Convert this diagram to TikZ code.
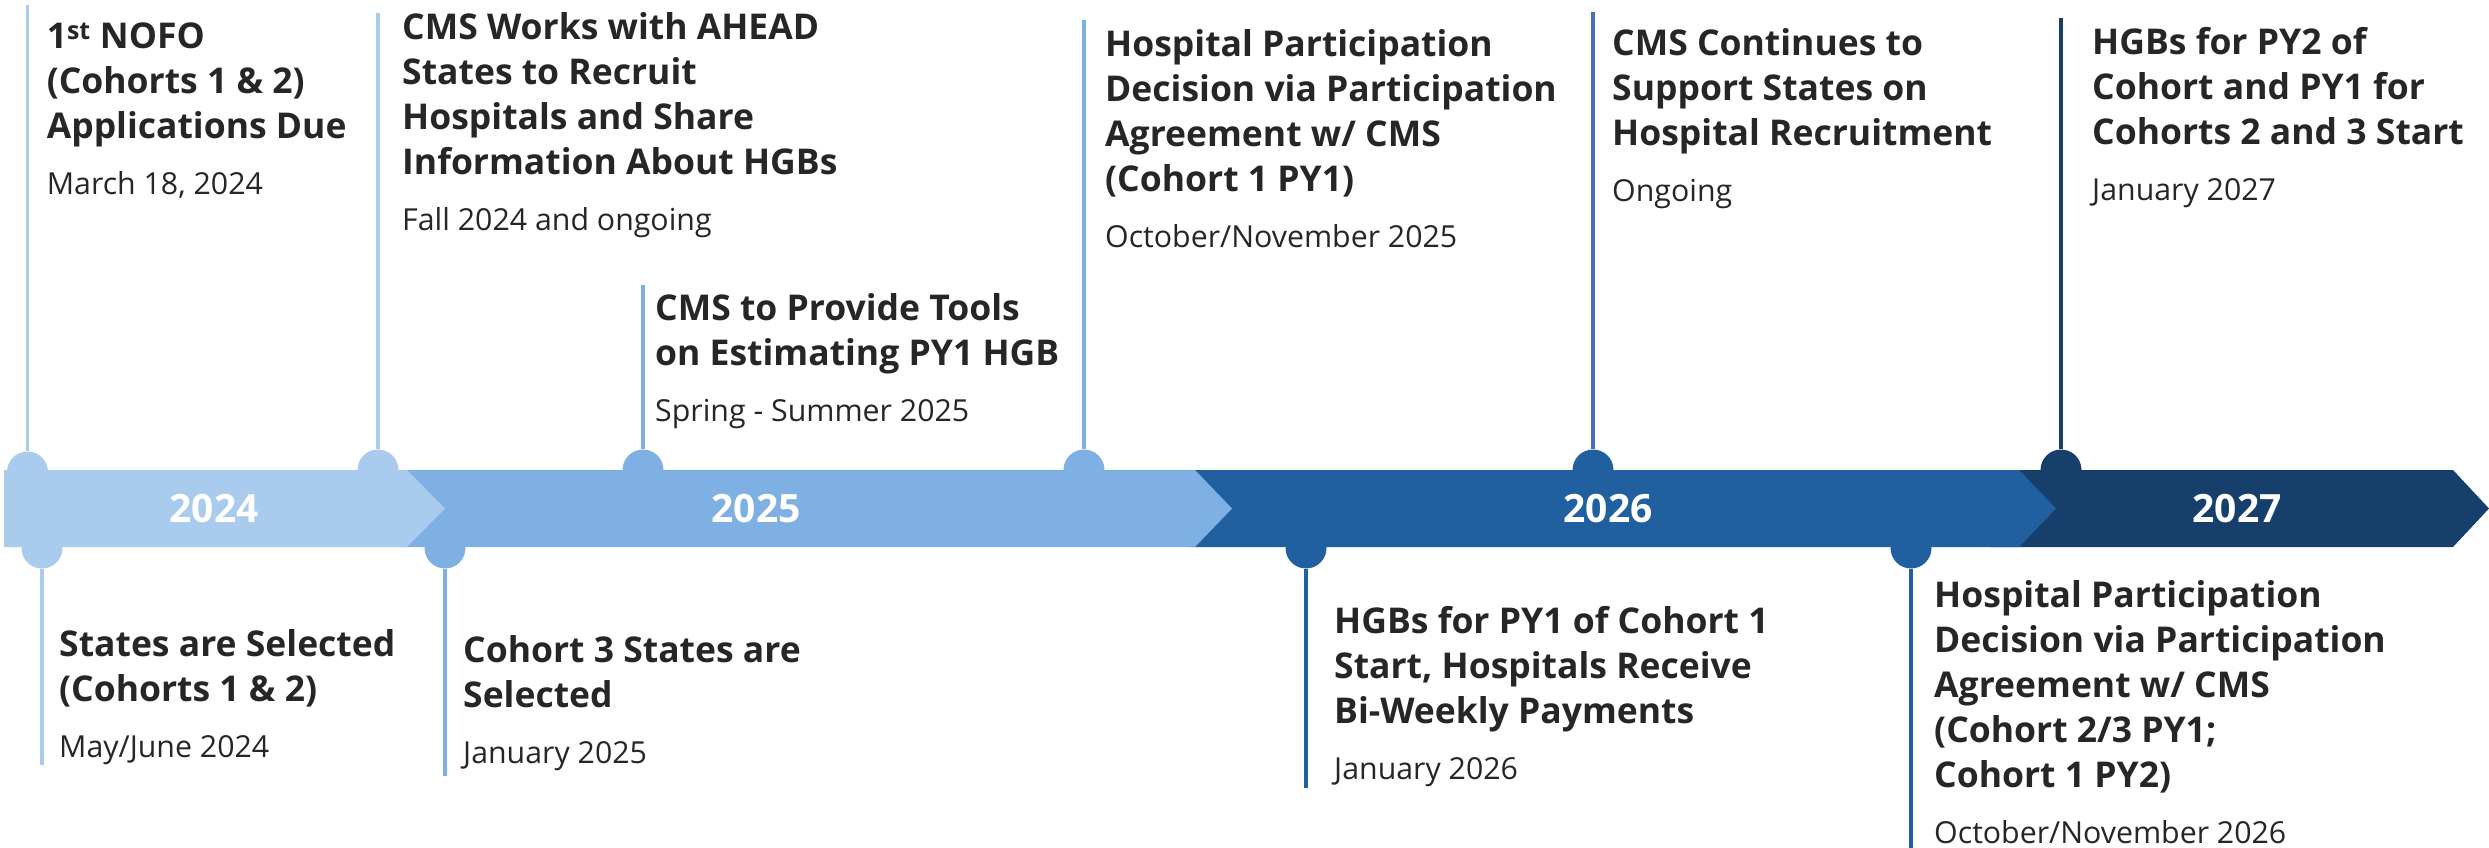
\documentclass[tikz,border=0pt]{standalone}
\usepackage{fontspec}
\setmainfont{Open Sans}

% band segment colours
\definecolor{segA}{HTML}{A9CBEE}
\definecolor{segB}{HTML}{7FB0E3}
\definecolor{segC}{HTML}{2160A0}
\definecolor{segD}{HTML}{173F6B}
\definecolor{stemC}{HTML}{4A6DBD}
\definecolor{ink}{HTML}{262626}

% one milestone text: stacked bold title lines, then the date
\newcommand\evline[1]{\hbox{#1}}
\newcommand\evt[2]{\vtop{\bfseries\fontsize{35.5}{45}\selectfont
  #1\vskip 11pt\hbox{\mdseries\fontsize{30.3}{45}\selectfont #2}}}

\tikzset{
  segfill/.style={draw=none},
  pindot/.style={circle, inner sep=0pt, minimum size=41pt, draw=none},
  stem/.style={line width=3.6pt},
  evtext/.style={anchor=base west, inner sep=0pt, text=ink},
  yearlbl/.style={text=white, font=\bfseries\fontsize{39}{39}\selectfont, inner sep=0pt}
}

\begin{document}
\begin{tikzpicture}[x=1pt,y=-1pt]
\useasboundingbox (0,0) rectangle (2489,848);

% chevron band, drawn right to left so each segment overlaps the next
\fill[segD] (1990,470) -- (2453,470) -- (2489,508.5) -- (2453,547) -- (1990,547) -- cycle;
\fill[segC] (1190,470) -- (2019,470) -- (2056,508.5) -- (2019,547) -- (1190,547) -- cycle;
\fill[segB] (400,470) -- (1195,470) -- (1232,508.5) -- (1195,547) -- (400,547) -- cycle;
\fill[segA] (4,470) -- (407,470) -- (445,508.5) -- (407,547) -- (4,547) -- cycle;

% year labels
\node[yearlbl] (y24) at (214,508.5) {2024};
\node[yearlbl] (y25) at (756,508.5) {2025};
\node[yearlbl] (y26) at (1608,508.5) {2026};
\node[yearlbl] (y27) at (2237,508.5) {2027};

% pin dots on the upper edge
\node[pindot, fill=segA] (pa) at (27.5,472) {};
\node[pindot, fill=segA] (pb) at (378,470) {};
\node[pindot, fill=segB] (pc) at (643,470) {};
\node[pindot, fill=segB] (pd) at (1084,470) {};
\node[pindot, fill=segC] (pe) at (1593,470) {};
\node[pindot, fill=segD] (pf) at (2061,470) {};
% pin dots on the lower edge
\node[pindot, fill=segA] (qa) at (42,548) {};
\node[pindot, fill=segB] (qb) at (445,548) {};
\node[pindot, fill=segC] (qc) at (1306,548) {};
\node[pindot, fill=segC] (qd) at (1911,548) {};

% free ends of the stems
\coordinate (ea) at (27.5,5);
\coordinate (eb) at (378,13);
\coordinate (ec) at (643,285);
\coordinate (ed) at (1084,20);
\coordinate (ee) at (1593,12);
\coordinate (ef) at (2061,18);
\coordinate (fa) at (42,765);
\coordinate (fb) at (445,776);
\coordinate (fc) at (1306,788);
\coordinate (fd) at (1911,848);

\draw[stem, segA] (ea) -- (pa);
\draw[stem, segA] (eb) -- (pb);
\draw[stem, segB] (ec) -- (pc);
\draw[stem, segB] (ed) -- (pd);
\draw[stem, stemC] (ee) -- (pe);
\draw[stem, segD] (ef) -- (pf);
\draw[stem, segA] (fa) -- (qa);
\draw[stem, segB] (fb) -- (qb);
\draw[stem, segC] (fc) -- (qc);
\draw[stem, segC] (fd) -- (qd);

% milestones above the band
\node[evtext] (ta) at (46.6,49) {\evt{\evline{1\textsuperscript{st} NOFO}\evline{(Cohorts 1 \& 2)}\evline{Applications Due}}{March 18, 2024}};
\node[evtext] (tb) at (402,40) {\evt{\evline{CMS Works with AHEAD}\evline{States to Recruit}\evline{Hospitals and Share}\evline{Information About HGBs}}{Fall 2024 and ongoing}};
\node[evtext] (tc) at (655,320) {\evt{\evline{CMS to Provide Tools}\evline{on Estimating PY1 HGB}}{Spring - Summer 2025}};
\node[evtext] (td) at (1105,57) {\evt{\evline{Hospital Participation}\evline{Decision via Participation}\evline{Agreement w/ CMS}\evline{(Cohort 1 PY1)}}{October/November 2025}};
\node[evtext] (te) at (1612,56) {\evt{\evline{CMS Continues to}\evline{Support States on}\evline{Hospital Recruitment}}{Ongoing}};
\node[evtext] (tf) at (2092,55) {\evt{\evline{HGBs for PY2 of}\evline{Cohort and PY1 for}\evline{Cohorts 2 and 3 Start}}{January 2027}};

% milestones below the band
\node[evtext] (ba) at (59,656) {\evt{\evline{States are Selected}\evline{(Cohorts 1 \& 2)}}{May/June 2024}};
\node[evtext] (bb) at (463,662) {\evt{\evline{Cohort 3 States are}\evline{Selected}}{January 2025}};
\node[evtext] (bc) at (1334,633) {\evt{\evline{HGBs for PY1 of Cohort 1}\evline{Start, Hospitals Receive}\evline{Bi-Weekly Payments}}{January 2026}};
\node[evtext] (bd) at (1934,607) {\evt{\evline{Hospital Participation}\evline{Decision via Participation}\evline{Agreement w/ CMS}\evline{(Cohort 2/3 PY1;}\evline{Cohort 1 PY2)}}{October/November 2026}};
\end{tikzpicture}
\end{document}
